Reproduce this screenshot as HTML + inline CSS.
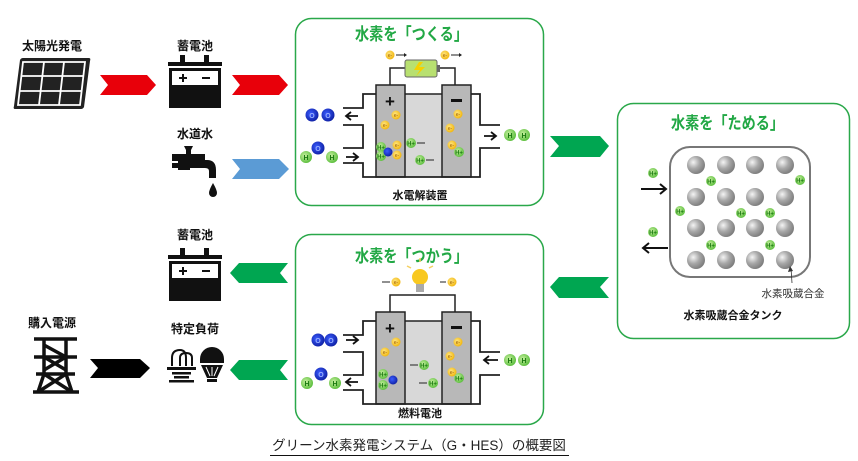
<!DOCTYPE html>
<html><head><meta charset="utf-8"><style>
html,body{margin:0;padding:0;background:#fff;}
svg{display:block;}
text{font-family:"Liberation Sans","Noto Sans CJK JP",sans-serif;}
</style></head><body>
<svg width="858" height="461" viewBox="0 0 858 461" xmlns="http://www.w3.org/2000/svg">
<defs>
<radialGradient id="gb" cx="0.35" cy="0.35" r="0.7"><stop offset="0" stop-color="#f4f4f4"/><stop offset="0.5" stop-color="#a8a8a8"/><stop offset="1" stop-color="#7a7a7a"/></radialGradient>
<radialGradient id="gh" cx="0.4" cy="0.4" r="0.7"><stop offset="0" stop-color="#c8f0a0"/><stop offset="1" stop-color="#4db830"/></radialGradient>
<radialGradient id="go" cx="0.4" cy="0.4" r="0.7"><stop offset="0" stop-color="#3a5cff"/><stop offset="1" stop-color="#0a1a9a"/></radialGradient>
<radialGradient id="ge" cx="0.4" cy="0.4" r="0.7"><stop offset="0" stop-color="#ffe680"/><stop offset="1" stop-color="#f0b000"/></radialGradient>
<g id="H"><circle r="5" fill="url(#gh)"/><text x="0" y="2.5" font-size="6" font-weight="bold" fill="#1a7a10" text-anchor="middle">H+</text></g>
<g id="HH"><circle r="6" fill="url(#gh)"/><text x="0" y="3" font-size="7" font-weight="bold" fill="#1a7a10" text-anchor="middle">H</text></g>
<g id="O"><circle r="6.5" fill="url(#go)"/><text x="0" y="3" font-size="7" font-weight="bold" fill="#9ab0ff" text-anchor="middle">O</text></g>
<g id="o"><circle r="4.5" fill="url(#go)"/></g>
<g id="e"><circle r="4.5" fill="url(#ge)"/><text x="0" y="2" font-size="5" fill="#a06000" text-anchor="middle">e-</text></g>
<g id="cell">
 <rect x="405" y="94" width="37" height="83" fill="#d8d8d8"/>
 <rect x="376" y="85" width="29" height="92" fill="#b8b8b8" stroke="#222" stroke-width="1.5"/>
 <rect x="442" y="85" width="29" height="92" fill="#b8b8b8" stroke="#222" stroke-width="1.5"/>
 <polyline points="376,94 363,94 363,108 343,108" fill="none" stroke="#222" stroke-width="1.8"/>
 <polyline points="343,125 363,125 363,148 343,148" fill="none" stroke="#222" stroke-width="1.8"/>
 <polyline points="343,163 363,163 363,177 480,177 480,148 500,148" fill="none" stroke="#222" stroke-width="1.8"/>
 <polyline points="471,94 480,94 480,125 500,125" fill="none" stroke="#222" stroke-width="1.8"/>
 <line x1="405" y1="94" x2="442" y2="94" stroke="#222" stroke-width="1.5"/>
 <text x="390" y="107" font-size="17" font-weight="bold" text-anchor="middle" fill="#111">+</text>
 <rect x="451" y="99" width="11" height="3" fill="#111"/>
 <polyline points="390,85 390,68 455,68 455,85" fill="none" stroke="#222" stroke-width="1.5"/>
</g>
</defs>

<rect x="295.5" y="18.5" width="248" height="187" rx="16" fill="#fff" stroke="#2aa84a" stroke-width="1.5"/>
<rect x="295.5" y="234.5" width="248" height="190" rx="16" fill="#fff" stroke="#2aa84a" stroke-width="1.5"/>
<rect x="617.5" y="103.5" width="232" height="235" rx="16" fill="#fff" stroke="#2aa84a" stroke-width="1.5"/>

<text x="355" y="40" font-size="17" font-weight="bold" fill="#22a845" textLength="113" lengthAdjust="spacingAndGlyphs">水素を「つくる」</text>
<text x="355" y="262" font-size="17" font-weight="bold" fill="#22a845" textLength="113" lengthAdjust="spacingAndGlyphs">水素を「つかう」</text>
<text x="671" y="129" font-size="17" font-weight="bold" fill="#22a845" textLength="113" lengthAdjust="spacingAndGlyphs">水素を「ためる」</text>

<use href="#cell"/>
<rect x="405" y="60" width="32" height="17" rx="2" fill="#b8e070" stroke="#666" stroke-width="1"/>
<rect x="437" y="65" width="3" height="7" fill="#666"/>
<path d="M419,62 L414,70 L420,70 L416,76 L425,67 L419,67 L423,62Z" fill="#f5d000"/>
<use href="#e" x="390" y="55"/><line x1="396" y1="55" x2="404" y2="55" stroke="#222"/><path d="M404,53 L407,55 L404,57Z" fill="#222"/>
<use href="#e" x="445" y="55"/><line x1="451" y1="55" x2="459" y2="55" stroke="#222"/><path d="M459,53 L462,55 L459,57Z" fill="#222"/>
<use href="#e" x="396" y="115"/><use href="#e" x="385" y="125"/><use href="#e" x="397" y="145"/><use href="#e" x="397" y="155"/>
<use href="#H" x="381" y="147"/><use href="#H" x="381" y="156"/><use href="#o" x="388" y="152"/>
<use href="#H" x="411" y="143"/><line x1="417" y1="143" x2="425" y2="143" stroke="#222"/>
<use href="#H" x="420" y="160"/><line x1="426" y1="160" x2="434" y2="160" stroke="#222"/>
<use href="#e" x="458" y="114"/><use href="#e" x="450" y="128"/><use href="#e" x="452" y="145"/><use href="#H" x="459" y="152"/>
<use href="#O" x="312" y="115"/><use href="#O" x="328" y="115"/>
<path d="M358,116 L346,116 M351,112 L346,116 L351,120" fill="none" stroke="#111" stroke-width="1.8"/>
<use href="#HH" x="306" y="157"/><use href="#O" x="318" y="148"/><use href="#HH" x="332" y="157"/>
<path d="M346,157 L358,157 M353,153 L358,157 L353,161" fill="none" stroke="#111" stroke-width="1.8"/>
<path d="M484,136 L496,136 M491,132 L496,136 L491,140" fill="none" stroke="#111" stroke-width="1.8"/>
<use href="#HH" x="510" y="135"/><use href="#HH" x="524" y="135"/>
<text x="420" y="199" font-size="11" font-weight="bold" fill="#111" text-anchor="middle">水電解装置</text>

<use href="#cell" y="227"/>
<g><line x1="420" y1="258" x2="420" y2="262" stroke="#f5d060" stroke-width="1.5"/><line x1="407" y1="266" x2="411" y2="268" stroke="#f5d060" stroke-width="1.5"/><line x1="433" y1="266" x2="429" y2="268" stroke="#f5d060" stroke-width="1.5"/>
<circle cx="420" cy="277" r="8" fill="#f8c820"/><rect x="416" y="284" width="8" height="8" fill="#aaa"/></g>
<use href="#e" x="396" y="282"/><line x1="382" y1="282" x2="390" y2="282" stroke="#222"/>
<use href="#e" x="452" y="282"/><line x1="440" y1="282" x2="446" y2="282" stroke="#222"/>
<use href="#e" x="396" y="342"/><use href="#e" x="385" y="352"/>
<use href="#H" x="383" y="374"/><use href="#H" x="383" y="385"/><use href="#o" x="393" y="380"/>
<use href="#H" x="424" y="365"/><line x1="410" y1="365" x2="418" y2="365" stroke="#222"/>
<use href="#H" x="433" y="383"/><line x1="419" y1="383" x2="427" y2="383" stroke="#222"/>
<use href="#e" x="458" y="342"/><use href="#e" x="450" y="356"/><use href="#e" x="452" y="372"/><use href="#H" x="459" y="378"/>
<use href="#O" x="318" y="340"/><use href="#O" x="331" y="340"/>
<path d="M346,340 L358,340 M353,336 L358,340 L353,344" fill="none" stroke="#111" stroke-width="1.8"/>
<use href="#HH" x="307" y="383"/><use href="#O" x="321" y="374"/><use href="#HH" x="335" y="383"/>
<path d="M358,382 L346,382 M351,378 L346,382 L351,386" fill="none" stroke="#111" stroke-width="1.8"/>
<path d="M498,360 L484,360 M489,356 L484,360 L489,364" fill="none" stroke="#111" stroke-width="1.8"/>
<use href="#HH" x="510" y="360"/><use href="#HH" x="524" y="360"/>
<text x="420" y="417" font-size="11" font-weight="bold" fill="#111" text-anchor="middle">燃料電池</text>

<rect x="670" y="147" width="140" height="130" rx="20" fill="#fff" stroke="#777" stroke-width="2"/>
<g fill="url(#gb)">
<circle cx="696" cy="165" r="9"/><circle cx="726" cy="165" r="9"/><circle cx="755" cy="165" r="9"/><circle cx="785" cy="165" r="9"/>
<circle cx="696" cy="197" r="9"/><circle cx="726" cy="197" r="9"/><circle cx="755" cy="197" r="9"/><circle cx="785" cy="197" r="9"/>
<circle cx="696" cy="228" r="9"/><circle cx="726" cy="228" r="9"/><circle cx="755" cy="228" r="9"/><circle cx="785" cy="228" r="9"/>
<circle cx="696" cy="260" r="9"/><circle cx="726" cy="260" r="9"/><circle cx="755" cy="260" r="9"/><circle cx="785" cy="260" r="9"/>
</g>
<use href="#H" x="653" y="173"/><use href="#H" x="711" y="181"/><use href="#H" x="800" y="180"/>
<use href="#H" x="680" y="211"/><use href="#H" x="741" y="213"/><use href="#H" x="770" y="213"/>
<use href="#H" x="653" y="232"/><use href="#H" x="711" y="245"/><use href="#H" x="770" y="245"/>
<path d="M641,189 L666,189 M660,184 L666,189 L660,194" fill="none" stroke="#111" stroke-width="2"/>
<path d="M668,248 L643,248 M649,243 L643,248 L649,253" fill="none" stroke="#111" stroke-width="2"/>
<line x1="791" y1="268" x2="792" y2="283" stroke="#333" stroke-width="0.8"/><path d="M788,272 L790,266 L793,271Z" fill="#333"/>
<text x="793" y="297" font-size="10.5" fill="#333" text-anchor="middle">水素吸蔵合金</text>
<text x="733" y="319" font-size="11" font-weight="bold" fill="#111" text-anchor="middle">水素吸蔵合金タンク</text>

<path d="M100,75 L147,75 L156,85 L147,95 L100,95 L108,85Z" fill="#e8000a"/>
<path d="M232,75 L279,75 L288,85 L279,95 L232,95 L240,85Z" fill="#e8000a"/>
<path d="M232,159 L279,159 L289,169 L279,179 L232,179 L240,169Z" fill="#5b9bd5"/>
<path d="M550,136 L600,136 L609,146 L600,157 L550,157 L559,146Z" fill="#00a651"/>
<path d="M609,277 L559,277 L550,287 L559,298 L609,298 L600,287Z" fill="#00a651"/>
<path d="M288,263 L239,263 L230,273 L239,283 L288,283 L280,273Z" fill="#00a651"/>
<path d="M288,360 L239,360 L230,370 L239,380 L288,380 L280,370Z" fill="#00a651"/>
<path d="M90,359 L140,359 L150,368 L140,378 L90,378 L98,368Z" fill="#000"/>

<text x="52" y="50" font-size="12" font-weight="bold" fill="#111" text-anchor="middle">太陽光発電</text>
<path d="M23,58 L89,58 Q91,58 90,61 L84,107 Q83,109 81,109 L15,109 Q13,109 14,106 L20,60 Q21,58 23,58Z" fill="#222"/>
<g stroke="#fff" stroke-width="1.8" fill="none">
<path d="M23,62 L85,62 L80,105 L18,105Z"/>
<line x1="44" y1="62" x2="39" y2="105"/><line x1="64" y1="62" x2="59" y2="105"/>
<line x1="21.5" y1="76" x2="83.5" y2="76"/><line x1="19.8" y1="91" x2="81.7" y2="91"/>
</g>

<text x="195" y="50" font-size="12" font-weight="bold" fill="#111" text-anchor="middle">蓄電池</text>
<g id="bat">
<rect x="180" y="55" width="5" height="7" fill="#111"/><rect x="204" y="55" width="5" height="7" fill="#111"/>
<rect x="168" y="62" width="54" height="4" fill="#111"/>
<rect x="169" y="68" width="52" height="40" fill="#111"/>
<rect x="172" y="71" width="46" height="14" fill="#fff"/>
<rect x="179" y="77" width="8" height="2" fill="#111"/><rect x="182" y="74" width="2" height="8" fill="#111"/>
<rect x="202" y="77" width="8" height="2" fill="#111"/>
</g>
<use href="#bat" y="193"/>
<text x="195" y="239" font-size="12" font-weight="bold" fill="#111" text-anchor="middle">蓄電池</text>
<text x="195" y="138" font-size="12" font-weight="bold" fill="#111" text-anchor="middle">水道水</text>
<path d="M184,146 L193,146 L191,150 L186,150Z" fill="#111"/>
<rect x="186" y="150" width="5" height="4" fill="#111"/>
<rect x="172" y="154" width="33" height="7" fill="#111"/>
<rect x="178" y="161" width="12" height="9" fill="#111"/><rect x="172" y="163" width="6" height="5" fill="#111"/>
<path d="M190,160 L207,160 Q216,160 216,170 L216,178 L209,178 L209,171 Q209,168 205,168 L190,168Z" fill="#111"/>
<path d="M213,183 Q217,190 217,193 A4,4 0 0 1 209,193 Q209,190 213,183Z" fill="#111"/>

<text x="52" y="327" font-size="12" font-weight="bold" fill="#111" text-anchor="middle">購入電源</text>
<g stroke="#111" stroke-width="3.5" fill="none">
<line x1="34" y1="339" x2="77" y2="339"/><line x1="34" y1="357" x2="77" y2="357"/>
<line x1="36" y1="374" x2="75" y2="374"/><line x1="33" y1="392" x2="79" y2="392"/>
<line x1="44" y1="339" x2="44" y2="374"/><line x1="66" y1="339" x2="66" y2="374"/>
<line x1="44" y1="374" x2="38" y2="392"/><line x1="66" y1="374" x2="72" y2="392"/>
<line x1="44" y1="345" x2="66" y2="357"/><line x1="44" y1="357" x2="66" y2="370"/><line x1="66" y1="357" x2="44" y2="370"/>
<line x1="44" y1="374" x2="72" y2="392"/><line x1="66" y1="374" x2="38" y2="392"/>
</g>
<text x="195" y="333" font-size="12" font-weight="bold" fill="#111" text-anchor="middle">特定負荷</text>
<g stroke="#111" stroke-width="2" fill="none">
<path d="M172,366 L172,358 Q172,350 180,350 Q186,350 186,358 L186,366"/>
<path d="M180,366 L180,358 Q180,353 186,353 Q192,353 192,358 L192,366"/>
</g>
<rect x="167" y="367" width="29" height="3" fill="#111"/><rect x="172" y="372" width="19" height="2.5" fill="#111"/>
<rect x="174" y="376" width="15" height="2.5" fill="#111"/><rect x="169" y="380" width="25" height="2.5" fill="#111"/>
<path d="M212,347 A12,12 0 0 1 224,359 L224,363 L200,363 L200,359 A12,12 0 0 1 212,347Z" fill="#111"/>
<path d="M201,365 L223,365 L217,378 L207,378Z" fill="#111"/>
<path d="M206,367 L210,376 M212,367 L212,376 M218,367 L214,376" stroke="#fff" stroke-width="1"/>
<rect x="207" y="379" width="10" height="3" fill="#111"/>

<text x="419" y="450" font-size="13.5" fill="#222" text-anchor="middle">グリーン水素発電システム（G・HES）の概要図</text>
<line x1="270" y1="455.5" x2="569" y2="455.5" stroke="#111" stroke-width="1"/>
</svg>
</body></html>
